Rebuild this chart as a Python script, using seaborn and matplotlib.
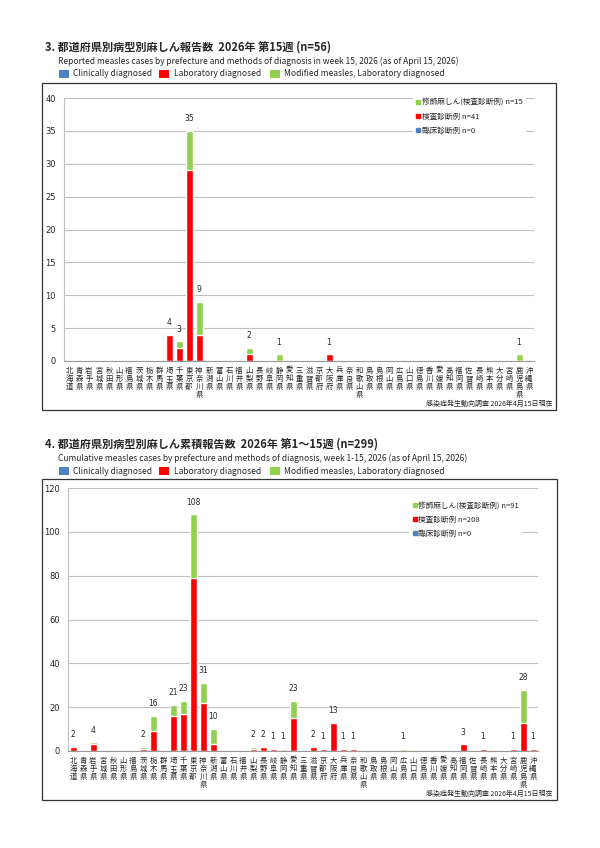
import numpy as np
import pandas as pd
import matplotlib
matplotlib.use("Agg")
import matplotlib.pyplot as plt
from matplotlib.lines import Line2D
from matplotlib.patches import Rectangle
import seaborn as sns

prefectures = ["北海道", "青森県", "岩手県", "宮城県", "秋田県", "山形県", "福島県", "茨城県", "栃木県", "群馬県",
               "埼玉県", "千葉県", "東京都", "神奈川県", "新潟県", "富山県", "石川県", "福井県", "山梨県", "長野県",
               "岐阜県", "静岡県", "愛知県", "三重県", "滋賀県", "京都府", "大阪府", "兵庫県", "奈良県", "和歌山県",
               "鳥取県", "島根県", "岡山県", "広島県", "山口県", "徳島県", "香川県", "愛媛県", "高知県", "福岡県",
               "佐賀県", "長崎県", "熊本県", "大分県", "宮崎県", "鹿児島県", "沖縄県"]

# Week 15
w15_lab = [0, 0, 0, 0, 0, 0, 0, 0, 0, 0,
           4, 2, 29, 4, 0, 0, 0, 0, 1, 0,
           0, 0, 0, 0, 0, 0, 1, 0, 0, 0,
           0, 0, 0, 0, 0, 0, 0, 0, 0, 0,
           0, 0, 0, 0, 0, 0, 0]
w15_mod = [0, 0, 0, 0, 0, 0, 0, 0, 0, 0,
           0, 1, 6, 5, 0, 0, 0, 0, 1, 0,
           0, 1, 0, 0, 0, 0, 0, 0, 0, 0,
           0, 0, 0, 0, 0, 0, 0, 0, 0, 0,
           0, 0, 0, 0, 0, 1, 0]
w15_clin = [0] * 47

# Cumulative week 1-15
cum_lab = [2, 0, 3, 0, 0, 0, 0, 1, 9, 0,
           16, 17, 79, 22, 3, 0, 0, 0, 1, 2,
           1, 0, 15, 0, 2, 1, 13, 1, 1, 0,
           0, 0, 0, 0, 0, 0, 0, 0, 0, 3,
           0, 1, 0, 0, 1, 13, 1]
cum_mod = [0, 0, 1, 0, 0, 0, 0, 1, 7, 0,
           5, 6, 29, 9, 7, 0, 0, 0, 1, 0,
           0, 1, 8, 0, 0, 0, 0, 0, 0, 0,
           0, 0, 0, 1, 0, 0, 0, 0, 0, 0,
           0, 0, 0, 0, 0, 15, 0]
cum_clin = [0] * 47

RED = "#FF0000"
GREEN = "#92D050"
BLUE = "#4F81BD"

sns.set_theme(style="white")
plt.rcParams["font.family"] = ["Noto Sans CJK JP", "DejaVu Sans"]

W, H = 600, 848
fig = plt.figure(figsize=(6, 8.48), dpi=100)


def fx(x):
    return x / W


def fy(y):
    return 1 - y / H


def draw_chart(top_text_y, title, subtitle, box, axpos, lab, mod, clin, ymax, ystep, legend_labels, legend_pos):
    # title & subtitle
    fig.text(fx(45), fy(top_text_y), title, fontsize=8, fontweight="bold", va="center", ha="left")
    fig.text(fx(58), fy(top_text_y + 14), subtitle, fontsize=6.1, va="center", ha="left")
    # top legend
    ly = top_text_y + 27
    for (sx, tx, col, lbl) in [(59, 73, BLUE, "Clinically diagnosed"),
                               (159, 174, RED, "Laboratory diagnosed"),
                               (270, 284, GREEN, "Modified measles, Laboratory diagnosed")]:
        fig.patches.append(Rectangle((fx(sx), fy(ly + 4)), fx(10), 8 / H, transform=fig.transFigure,
                                     facecolor=col, edgecolor="none"))
        fig.text(fx(tx), fy(ly), lbl, fontsize=6.1, va="center", ha="left")
    # frame box
    bx0, by0, bx1, by1 = box
    fig.patches.append(Rectangle((fx(bx0), fy(by1)), fx(bx1 - bx0), (by1 - by0) / H,
                                 transform=fig.transFigure, facecolor="none",
                                 edgecolor="#333333", linewidth=0.9))
    ax0, ay0, ax1, ay1 = axpos
    ax = fig.add_axes([fx(ax0), fy(ay1), fx(ax1 - ax0), (ay1 - ay0) / H])
    total = [a + b + c for a, b, c in zip(lab, mod, clin)]
    df = pd.DataFrame({"pref": prefectures, "total": total, "lab": lab, "clin": clin})
    sns.barplot(data=df, x="pref", y="total", color=GREEN, saturation=1, width=0.7, ax=ax, order=prefectures)
    sns.barplot(data=df, x="pref", y="lab", color=RED, saturation=1, width=0.7, ax=ax, order=prefectures)
    for i, t in enumerate(total):
        if t > 0:
            ax.annotate(str(t), (i, t), xytext=(0, 5.5), textcoords="offset points",
                        ha="center", va="bottom", fontsize=5.5, family="DejaVu Sans")
    ax.set_xlim(-0.5, len(prefectures) - 0.5)
    ax.set_ylim(0, ymax)
    ax.set_yticks(np.arange(0, ymax + 1, ystep))
    ax.set_yticklabels([str(int(v)) for v in np.arange(0, ymax + 1, ystep)], fontsize=6, family="DejaVu Sans")
    ax.set_xticks(range(len(prefectures)))
    ax.set_xticklabels(["\n".join(p) for p in prefectures], fontsize=5.3, linespacing=1.05, va="top")
    ax.tick_params(axis="x", length=0, pad=4)
    ax.tick_params(axis="y", length=0, pad=6)
    ax.set_xticks(np.arange(-0.5, len(prefectures), 1), minor=True)
    ax.tick_params(axis="x", which="minor", length=2.5, color="#999999", width=0.6)
    ax.set_xlabel("")
    ax.set_ylabel("")
    ax.grid(axis="y", color="#BFBFBF", linewidth=0.8)
    ax.set_axisbelow(True)
    for s in ["top", "right"]:
        ax.spines[s].set_visible(False)
    ax.spines["left"].set_color("#BFBFBF")
    ax.spines["left"].set_linewidth(0.8)
    ax.spines["bottom"].set_color("#999999")
    ax.spines["bottom"].set_linewidth(0.8)
    handles = [Line2D([], [], marker="s", linestyle="none", color=c, markersize=3.5)
               for c in [GREEN, RED, BLUE]]
    leg = ax.legend(handles, legend_labels, loc="upper left", bbox_to_anchor=legend_pos,
                    frameon=True, fontsize=5.5, handletextpad=0.1, labelspacing=0.75,
                    borderpad=0.3, handlelength=0.8)
    leg.get_frame().set_edgecolor("white")
    leg.get_frame().set_facecolor("white")
    leg.get_frame().set_alpha(1)
    fig.text(fx(bx1 - 4), fy(by1 - 6), "感染症発生動向調査 2026年4月15日現在", fontsize=5,
             ha="right", va="center")
    return ax


draw_chart(47,
           "3. 都道府県別病型別麻しん報告数  2026年 第15週 (n=56)",
           "Reported measles cases by prefecture and methods of diagnosis in week 15, 2026 (as of April 15, 2026)",
           (42, 83, 556, 410), (64, 98, 534, 361),
           w15_lab, w15_mod, w15_clin, 40, 5,
           ["修飾麻しん(検査診断例) n=15", "検査診断例 n=41", "臨床診断例 n=0"],
           (0.734, 1.02))

draw_chart(444,
           "4. 都道府県別病型別麻しん累積報告数  2026年 第1～15週 (n=299)",
           "Cumulative measles cases by prefecture and methods of diagnosis, week 1-15, 2026 (as of April 15, 2026)",
           (42, 479, 557, 800), (68, 488, 538, 751),
           cum_lab, cum_mod, cum_clin, 120, 20,
           ["修飾麻しん(検査診断例) n=91", "検査診断例 n=208", "臨床診断例 n=0"],
           (0.718, 0.97))

fig.savefig("out.png", dpi=100)
